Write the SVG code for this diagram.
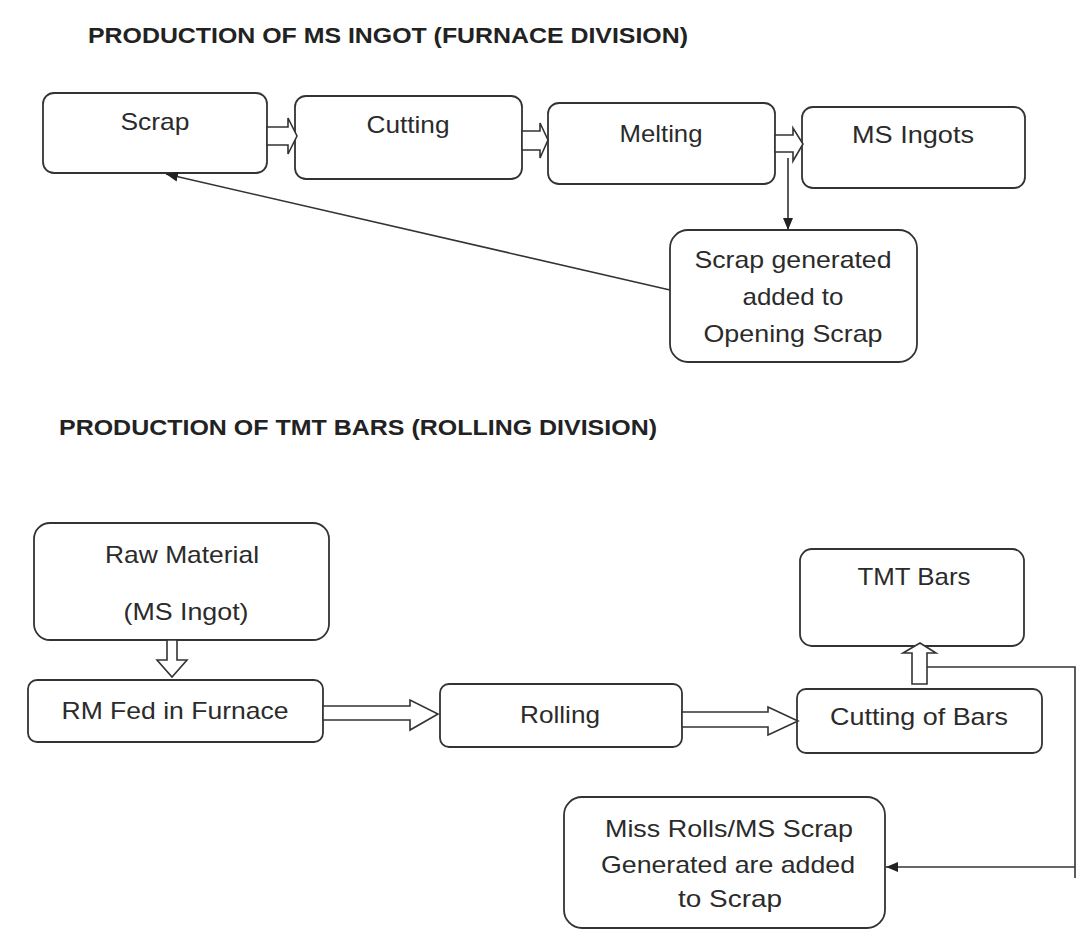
<svg xmlns="http://www.w3.org/2000/svg" width="1077" height="952" viewBox="0 0 1077 952">
<style>
.box{fill:none;stroke:#333;stroke-width:1.8}
.t{font-family:"Liberation Sans",Arial,sans-serif;font-size:24px;fill:#2b2b2b;text-anchor:middle}
.title{font-family:"Liberation Sans",Arial,sans-serif;font-size:22px;font-weight:bold;fill:#222}
.hollow{fill:#fff;stroke:#333;stroke-width:1.6;stroke-linejoin:miter}
.line{fill:none;stroke:#333;stroke-width:1.6}
</style>
<defs>
<marker id="ah" viewBox="0 0 12 10" refX="12" refY="5" markerWidth="12" markerHeight="10" markerUnits="userSpaceOnUse" orient="auto">
<path d="M0,0 L12,5 L0,10 Z" fill="#222"/>
</marker>
</defs>
<rect width="1077" height="952" fill="#fff"/>
<text class="title" x="88" y="43" textLength="600" lengthAdjust="spacingAndGlyphs">PRODUCTION OF MS INGOT (FURNACE DIVISION)</text>
<text class="title" x="59" y="435" textLength="598" lengthAdjust="spacingAndGlyphs">PRODUCTION OF TMT BARS (ROLLING DIVISION)</text>

<g id="scrap"><rect class="box" x="43" y="93" width="224" height="80" rx="11"/><text class="t" x="155" y="130" textLength="69" lengthAdjust="spacingAndGlyphs">Scrap</text></g>
<g id="cutting"><rect class="box" x="295" y="96" width="227" height="83" rx="11"/><text class="t" x="408" y="133" textLength="83" lengthAdjust="spacingAndGlyphs">Cutting</text></g>
<g id="melting"><rect class="box" x="548" y="103" width="227" height="81" rx="11"/><text class="t" x="661" y="142" textLength="83" lengthAdjust="spacingAndGlyphs">Melting</text></g>
<g id="ms-ingots"><rect class="box" x="802" y="107" width="223" height="81" rx="11"/><text class="t" x="913" y="143" textLength="122" lengthAdjust="spacingAndGlyphs">MS Ingots</text></g>
<g id="scrap-generated"><rect class="box" x="670" y="230" width="247" height="132" rx="18"/>
<text class="t" x="793" y="268" textLength="197" lengthAdjust="spacingAndGlyphs">Scrap generated</text>
<text class="t" x="793" y="305" textLength="101" lengthAdjust="spacingAndGlyphs">added to</text>
<text class="t" x="793" y="342" textLength="179" lengthAdjust="spacingAndGlyphs">Opening Scrap</text></g>

<g id="raw-material"><rect class="box" x="34" y="523" width="295" height="117" rx="16"/>
<text class="t" x="182" y="563" textLength="154" lengthAdjust="spacingAndGlyphs">Raw Material</text>
<text class="t" x="186" y="620" textLength="125" lengthAdjust="spacingAndGlyphs">(MS Ingot)</text></g>
<g id="rm-fed"><rect class="box" x="28" y="680" width="295" height="62" rx="9"/><text class="t" x="175" y="719" textLength="227" lengthAdjust="spacingAndGlyphs">RM Fed in Furnace</text></g>
<g id="rolling"><rect class="box" x="440" y="684" width="242" height="63" rx="9"/><text class="t" x="560" y="723" textLength="80" lengthAdjust="spacingAndGlyphs">Rolling</text></g>
<g id="cutting-bars"><rect class="box" x="797" y="689" width="245" height="64" rx="9"/><text class="t" x="919" y="725" textLength="178" lengthAdjust="spacingAndGlyphs">Cutting of Bars</text></g>
<g id="tmt-bars"><rect class="box" x="800" y="549" width="224" height="97" rx="12"/><text class="t" x="914" y="585" textLength="113" lengthAdjust="spacingAndGlyphs">TMT Bars</text></g>
<g id="miss-rolls"><rect class="box" x="564" y="797" width="321" height="131" rx="18"/>
<text class="t" x="729" y="837" textLength="248" lengthAdjust="spacingAndGlyphs">Miss Rolls/MS Scrap</text>
<text class="t" x="728" y="873" textLength="254" lengthAdjust="spacingAndGlyphs">Generated are added</text>
<text class="t" x="730" y="907" textLength="104" lengthAdjust="spacingAndGlyphs">to Scrap</text></g>

<g id="connectors">
<polygon class="hollow" points="267,127 288,127 288,118 297,136 288,154 288,145 267,145"/>
<polygon class="hollow" points="522,131 540,131 540,123 548,140 540,158 540,150 522,150"/>
<polygon class="hollow" points="775,135 793,135 793,128 803,144 793,161 793,152 775,152"/>
<line class="line" x1="788" y1="158" x2="788" y2="230" marker-end="url(#ah)"/>
<line class="line" x1="670" y1="290" x2="166" y2="174" marker-end="url(#ah)"/>
<polygon class="hollow" points="167,640 177,640 177,660 187,660 172,677 157,660 167,660"/>
<polygon class="hollow" points="323,706 410,706 410,700 438,714 410,730 410,720 323,720"/>
<polygon class="hollow" points="682,712 768,712 768,707 798,721 768,735 768,727 682,727"/>
<polygon class="hollow" points="912,684 912,653 903,653 920,643 936,653 927,653 927,684"/>
<polyline class="line" points="927,667 1075,667 1075,878"/>
<line class="line" x1="1075" y1="867" x2="886" y2="867" marker-end="url(#ah)"/>
</g>
</svg>
